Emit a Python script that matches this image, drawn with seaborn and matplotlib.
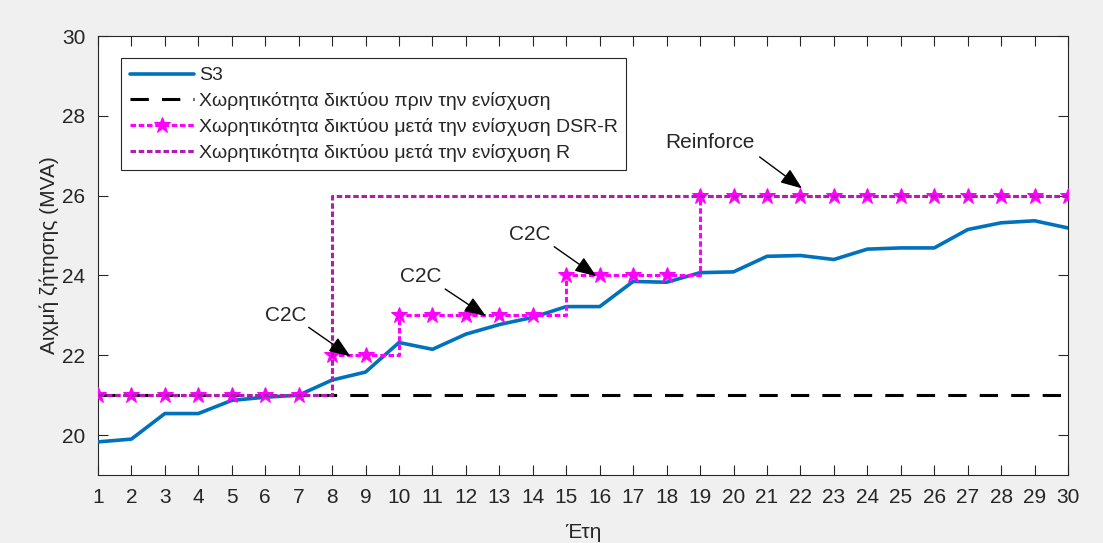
import numpy as np
import pandas as pd
import matplotlib
matplotlib.use("Agg")
import matplotlib.pyplot as plt
import seaborn as sns

# Years of the planning horizon
years = list(range(1, 31))

# Peak demand of substation S3 (MVA)
s3_demand = [19.83, 19.90, 20.54, 20.54, 20.87, 20.95, 21.00, 21.38, 21.58, 22.32,
             22.15, 22.53, 22.77, 22.95, 23.22, 23.22, 23.85, 23.83, 24.07, 24.09,
             24.48, 24.50, 24.40, 24.66, 24.69, 24.69, 25.15, 25.32, 25.37, 25.19]

# Network capacity before reinforcement (MVA)
capacity_before = [21] * 30

# Network capacity after DSR-R reinforcement (MVA)
capacity_dsr_r = [21, 21, 21, 21, 21, 21, 21, 22, 22, 23,
                  23, 23, 23, 23, 24, 24, 24, 24, 26, 26,
                  26, 26, 26, 26, 26, 26, 26, 26, 26, 26]

# Network capacity after conventional reinforcement R (MVA)
capacity_r = [21, 21, 21, 21, 21, 21, 21, 26, 26, 26,
              26, 26, 26, 26, 26, 26, 26, 26, 26, 26,
              26, 26, 26, 26, 26, 26, 26, 26, 26, 26]

series_labels = ["S3",
                 "Χωρητικότητα δικτύου πριν την ενίσχυση",
                 "Χωρητικότητα δικτύου μετά την ενίσχυση DSR-R",
                 "Χωρητικότητα δικτύου μετά την ενίσχυση R"]

# Annotations: text, text position, arrow tail, arrow tip
notes = [("C2C", (6.6, 23.0), (7.3, 22.7), (8.55, 21.97)),
         ("C2C", (10.65, 23.98), (11.38, 23.66), (12.6, 22.98)),
         ("C2C", (13.9, 25.02), (14.64, 24.72), (15.9, 23.98)),
         ("Reinforce", (19.3, 27.33), (20.78, 26.97), (22.05, 26.18))]

sns.set_theme(style="white")
plt.rcParams["font.family"] = ["Liberation Sans", "DejaVu Sans"]

df = pd.DataFrame({"year": years, "s3": s3_demand, "before": capacity_before,
                   "dsr": capacity_dsr_r, "r": capacity_r})

fig = plt.figure(figsize=(11.03, 5.43), dpi=100, facecolor="#f0f0f0")
ax = fig.add_axes([0.0888, 0.1252, 0.8795, 0.8085])
ax.set_facecolor("white")

blue = "#0072BD"
magenta = "#ff00ff"
purple = "#b01eb0"
ink = "#262626"

sns.lineplot(data=df, x="year", y="s3", ax=ax, color=blue, linewidth=2.6,
             label=series_labels[0], zorder=3)
sns.lineplot(data=df, x="year", y="before", ax=ax, color="black", linewidth=2.2,
             label=series_labels[1], zorder=2)
sns.lineplot(data=df, x="year", y="dsr", ax=ax, color=magenta, linewidth=2.2,
             marker="*", markersize=12, markeredgecolor=magenta,
             drawstyle="steps-post", label=series_labels[2], zorder=4)
sns.lineplot(data=df, x="year", y="r", ax=ax, color=purple, linewidth=2.2,
             drawstyle="steps-post", label=series_labels[3], zorder=5)

lines = ax.get_lines()
lines[1].set_linestyle((0, (6, 4.3)))
lines[2].set_linestyle((0, (1.8, 0.9)))
lines[3].set_linestyle((0, (1.8, 0.9)))

for text, xytext, tail, tip in notes:
    ax.text(xytext[0], xytext[1], text, ha="center", va="center",
            fontsize=15, color=ink, zorder=6)
    ax.annotate("", xy=tip, xytext=tail,
                arrowprops=dict(arrowstyle="-|>,head_length=1.1,head_width=0.42",
                                color="black", lw=1.0, shrinkA=0, shrinkB=0),
                zorder=6)

ax.set_xlim(1, 30)
ax.set_ylim(19, 30)
ax.set_xticks(years)
ax.set_yticks([20, 22, 24, 26, 28, 30])
ax.tick_params(axis="both", which="both", direction="in", length=7, width=0.8,
               top=True, right=True, bottom=True, left=True,
               labelsize=15, colors=ink, pad=9)
for side in ["top", "right", "bottom", "left"]:
    ax.spines[side].set_color(ink)
    ax.spines[side].set_linewidth(0.8)

ax.set_xlabel("Έτη", fontsize=15, color=ink, labelpad=12)
ax.set_ylabel("Αιχμή ζήτησης (MVA)", fontsize=15, color=ink, labelpad=2)

handles = ax.get_lines()[:4]
leg = ax.legend(handles=handles, labels=series_labels, loc="upper left",
                bbox_to_anchor=(0.0237, 0.95), fontsize=14, frameon=True,
                fancybox=False, edgecolor=ink, framealpha=1,
                handlelength=3.3, handletextpad=0.25, borderpad=0.45,
                labelspacing=0.4, borderaxespad=0)
leg.get_frame().set_linewidth(0.8)
for t in leg.get_texts():
    t.set_color(ink)

fig.savefig("out.png", dpi=100, facecolor=fig.get_facecolor())
